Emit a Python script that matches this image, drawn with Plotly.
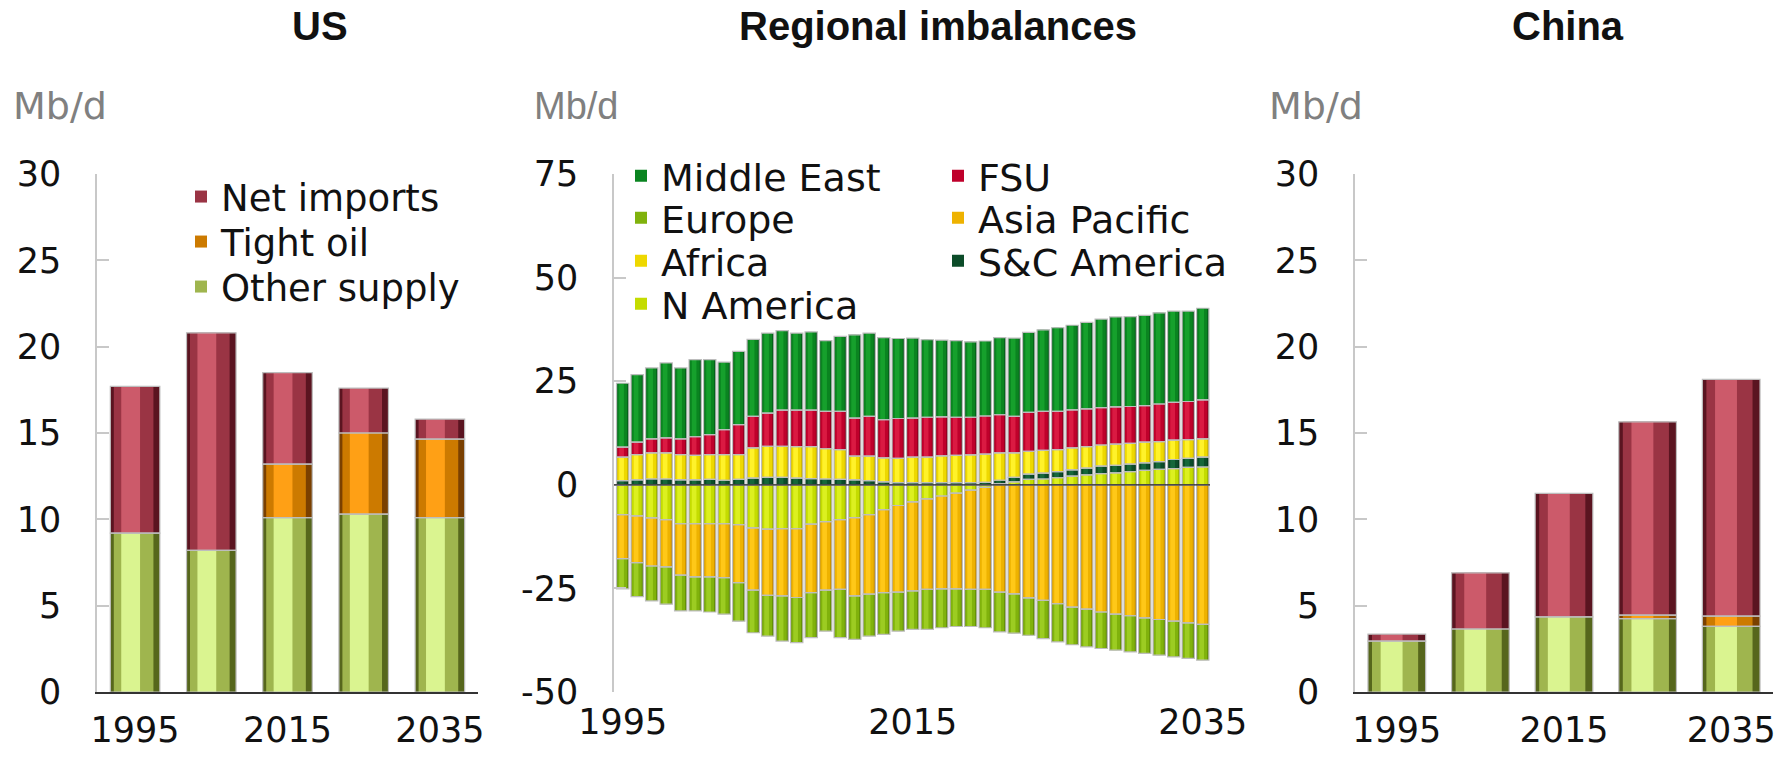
import plotly.graph_objects as go

# ---------------- data ----------------
bar_years = [1995, 2005, 2015, 2025, 2035]
tick_years = [1995, 2015, 2035]

us_other = [9.2, 8.2, 10.1, 10.3, 10.1]
us_tight = [None, None, 3.1, 4.7, 4.55]
us_net = [8.5, 12.6, 5.3, 2.6, 1.15]

cn_other = [2.95, 3.65, 4.35, 4.25, 3.8]
cn_tight = [None, None, None, 0.2, 0.6]
cn_net = [0.4, 3.25, 7.15, 11.2, 13.7]

years = list(range(1995, 2036))
middle_east = [15.4, 16.3, 17.1, 18.1, 17.1, 18.6, 18.1, 16.3, 17.7, 18.6, 19.3, 19.2, 18.6, 18.9,
               17.1, 18.1, 20.1, 20.1, 19.8, 19.3, 19.3, 18.7, 18.5, 18.5, 18.2, 18.1, 18.6, 18.9,
               19.3, 19.7, 20.2, 20.4, 20.9, 21.4, 21.7, 21.7, 21.8, 22.0, 22.0, 21.8, 22.1]
fsu = [2.4, 3.0, 3.4, 3.6, 3.8, 4.5, 4.8, 6.0, 7.2, 7.6, 8.0, 8.7, 8.8, 8.8,
       9.0, 9.2, 9.2, 9.6, 9.2, 9.6, 9.4, 9.6, 9.4, 9.2, 9.1, 9.2, 9.2, 8.8,
       9.4, 9.4, 9.2, 9.2, 9.1, 9.0, 9.0, 8.9, 8.8, 9.1, 9.1, 9.2, 9.4]
africa = [5.7, 6.1, 6.3, 6.3, 6.1, 5.9, 6.0, 6.2, 6.0, 7.3, 7.5, 7.5, 7.6, 7.7,
          7.3, 7.2, 5.7, 5.9, 5.8, 5.9, 6.2, 6.2, 6.5, 6.6, 6.7, 6.8, 6.6, 5.9,
          5.5, 5.5, 5.3, 5.3, 5.2, 5.1, 5.1, 5.0, 5.0, 4.8, 4.7, 4.5, 4.4]
sc_america = [1.0, 1.2, 1.4, 1.4, 1.2, 1.2, 1.3, 1.1, 1.3, 1.6, 1.8, 1.8, 1.6, 1.5,
              1.4, 1.3, 1.2, 1.0, 0.7, 0.5, 0.5, 0.5, 0.5, 0.5, 0.5, 0.6, 0.8, 1.1,
              1.3, 1.4, 1.5, 1.5, 1.6, 1.8, 1.8, 1.8, 1.8, 1.9, 2.2, 2.2, 2.4]
n_america = [-7.2, -7.5, -8.0, -8.4, -9.4, -9.4, -9.4, -9.4, -9.6, -10.4, -10.7, -10.6, -10.6, -9.5,
             -8.9, -8.4, -7.9, -7.2, -6.0, -5.0, -4.1, -3.4, -2.7, -2.0, -1.3, -0.6, 0.3, 0.7,
             1.3, 1.4, 1.7, 2.1, 2.4, 2.7, 2.9, 3.2, 3.5, 3.7, 3.9, 4.2, 4.3]
asia_pacific = [-10.6, -11.3, -11.6, -11.4, -12.4, -12.8, -12.8, -13.0, -14.0, -15.0, -16.0, -16.2, -16.6, -16.5,
                -16.5, -16.8, -18.9, -19.2, -20.0, -20.9, -21.5, -21.8, -22.4, -23.1, -23.9, -24.6, -25.9, -26.3,
                -27.3, -27.9, -28.7, -29.5, -30.0, -30.7, -31.2, -31.6, -32.1, -32.5, -32.9, -33.3, -33.7]
europe = [-7.3, -8.2, -8.4, -9.0, -8.6, -8.2, -8.5, -8.8, -9.3, -10.3, -9.8, -10.9, -10.9, -10.9,
          -9.9, -11.7, -10.5, -10.1, -10.1, -9.4, -9.3, -9.7, -9.4, -9.1, -9.0, -9.3, -9.6, -9.5,
          -9.0, -9.2, -9.2, -9.1, -9.1, -8.8, -8.7, -8.7, -8.6, -8.6, -8.6, -8.6, -8.6]

y_ticks_side = [0, 5, 10, 15, 20, 25, 30]
y_ticks_mid = [-50, -25, 0, 25, 50, 75]

# ---------------- style ----------------
W, H = 1787, 762
FONT = "DejaVu Sans, Verdana, sans-serif"
TFONT = "Liberation Sans, Arial, sans-serif"
OUTLINE = dict(color="#bdbdbd", width=1.2)
# (edge, mid, centre) shades imitating the cylinder shading
SH_NET = ("#5a1420", "#9a3444", "#cc5a6a")
SH_TIGHT = ("#7a4000", "#cc7a00", "#ffa015")
SH_OTHER = ("#56661c", "#9fb54e", "#daf490")
SH_ME = ("#04581a", "#0a8420", "#16a02c")
SH_FSU = ("#86001e", "#bf002b", "#da1a42")
SH_EU = ("#5a8506", "#80b20c", "#9ccc22")
SH_AP = ("#c08800", "#eeb200", "#ffc818")
SH_AF = ("#c4ae00", "#eed800", "#fff22a")
SH_SC = ("#04351a", "#0c4c29", "#16673a")
SH_NA = ("#95ab00", "#c4dc00", "#dcf020")

# name, values, shades, legend id (one legend per row)
us_series = [("Other supply", us_other, SH_OTHER, "legend3"),
             ("Tight oil", us_tight, SH_TIGHT, "legend2"),
             ("Net imports", us_net, SH_NET, "legend")]
cn_series = [("Other supply", cn_other, SH_OTHER, None),
             ("Tight oil", cn_tight, SH_TIGHT, None),
             ("Net imports", cn_net, SH_NET, None)]
mid_series = [("N America", n_america, SH_NA, "legend7"),
              ("S&C America", sc_america, SH_SC, "legend10"),
              ("Africa", africa, SH_AF, "legend6"),
              ("FSU", fsu, SH_FSU, "legend8"),
              ("Middle East", middle_east, SH_ME, "legend4"),
              ("Asia Pacific", asia_pacific, SH_AP, "legend9"),
              ("Europe", europe, SH_EU, "legend5")]
# legend id -> (left x px, row centre y px, font size)
legend_pos = {"legend": (181, 197, 37), "legend2": (181, 242, 37), "legend3": (181, 287, 37),
              "legend4": (621, 176, 38), "legend5": (621, 218, 38), "legend6": (621, 261, 38),
              "legend7": (621, 304, 38),
              "legend8": (938, 176, 38), "legend9": (938, 218, 38), "legend10": (938, 261, 38)}

panels = [(1, bar_years, 6.5, us_series), (2, years, 0.85, mid_series), (3, bar_years, 6.9, cn_series)]


def ax_names(idx):
    return ("x" if idx == 1 else f"x{idx}", "y" if idx == 1 else f"y{idx}")


fig = go.Figure()
for p, (base_idx, xs, w, series) in enumerate(panels):
    # level 0: edge shade, 1: mid shade (carries legend), 2: centre highlight, 3: outline only
    for level in range(4):
        idx = base_idx if level == 0 else 4 + (level - 1) * 3 + p
        xa, ya = ax_names(idx)
        for name, vals, shades, lg in series:
            if level == 0:
                kw = dict(width=w, marker=dict(color=shades[0], line=dict(width=0)))
            elif level == 1:
                kw = dict(width=w * 0.80, offset=-w * 0.43, marker=dict(color=shades[1], line=dict(width=0)))
            elif level == 2:
                kw = dict(width=w * 0.38, offset=-w * 0.28, marker=dict(color=shades[2], line=dict(width=0)))
            else:
                kw = dict(width=w, marker=dict(color="rgba(0,0,0,0)", line=OUTLINE))
            if level == 1 and lg is not None:
                extra = dict(legend=lg, showlegend=True)
            else:
                extra = dict(showlegend=False)
            fig.add_trace(go.Bar(x=xs, y=vals, name=name, xaxis=xa, yaxis=ya, hoverinfo="skip", **kw, **extra))

YDOM = [1 - 692 / H, 1 - 174 / H]
tickfont = dict(family=FONT, size=35, color="#111")
axis_common = dict(showgrid=False, zeroline=False, automargin=False, tickfont=tickfont)
yax = dict(axis_common, showline=True, linecolor="#c8c8c8", linewidth=1.5, ticks="inside", ticklen=12,
           tickcolor="#c8c8c8", tickwidth=1.5, ticklabelstandoff=27, domain=YDOM)

XDOMS = {1: [97 / W, 478 / W], 2: [614 / W, 1210 / W], 3: [1355 / W, 1773 / W]}
XRANGES = {1: [1990, 2040], 2: [1994.4, 2035.5], 3: [1990, 2040]}
YRANGES = {1: [0, 30], 2: [-50, 75], 3: [0, 30]}

layout = dict(
    width=W, height=H, margin=dict(l=0, r=0, t=0, b=0),
    paper_bgcolor="white", plot_bgcolor="rgba(0,0,0,0)", barmode="relative",
    font=dict(family=FONT, size=35, color="#111"),
    xaxis=dict(axis_common, domain=XDOMS[1], range=XRANGES[1], tickvals=tick_years,
               showline=True, linecolor="#333", linewidth=1.5, ticks="", ticklabelstandoff=6, anchor="y"),
    yaxis=dict(yax, range=YRANGES[1], tickvals=y_ticks_side, anchor="x"),
    xaxis2=dict(axis_common, domain=XDOMS[2], range=XRANGES[2], tickvals=tick_years,
                showline=False, ticks="", ticklabelstandoff=6, anchor="y2"),
    yaxis2=dict(yax, range=YRANGES[2], tickvals=y_ticks_mid, ticktext=[str(v) for v in y_ticks_mid],
                anchor="x2"),
    xaxis3=dict(axis_common, domain=XDOMS[3], range=XRANGES[3], tickvals=tick_years,
                showline=True, linecolor="#333", linewidth=1.5, ticks="", ticklabelstandoff=6, anchor="y3"),
    yaxis3=dict(yax, range=YRANGES[3], tickvals=y_ticks_side, anchor="x3"),
    shapes=[dict(type="line", xref="x2 domain", x0=0, x1=1, yref="y2", y0=0, y1=0,
                 line=dict(color="#222", width=1.2), layer="above")],
)
for lg, (lx, ly, fs) in legend_pos.items():
    layout[lg] = dict(x=lx / W, y=1 - ly / H, xanchor="left", yanchor="middle",
                      bgcolor="rgba(0,0,0,0)", font=dict(family=FONT, size=fs, color="#111"))
for p in range(3):
    base_idx = p + 1
    bx, by = ax_names(base_idx)
    for level in range(1, 4):
        idx = 4 + (level - 1) * 3 + p
        layout[f"xaxis{idx}"] = dict(overlaying=bx, range=XRANGES[base_idx], visible=False,
                                     automargin=False, anchor=f"y{idx}")
        layout[f"yaxis{idx}"] = dict(overlaying=by, range=YRANGES[base_idx], visible=False,
                                     automargin=False, anchor=f"x{idx}")
fig.update_layout(**layout)

titles = [("US", 320), ("Regional imbalances", 938), ("China", 1568)]
for txt, xc in titles:
    fig.add_annotation(text=txt, x=xc / W, y=1 - 26 / H, xref="paper", yref="paper",
                       showarrow=False, xanchor="center", yanchor="middle",
                       font=dict(family=TFONT, size=40, color="#111", weight="bold"))
for xl, fam in [(11, FONT), (532, TFONT), (1267, FONT)]:
    fig.add_annotation(text="Mb/d", x=xl / W, y=1 - 106 / H, xref="paper", yref="paper",
                       showarrow=False, xanchor="left", yanchor="middle",
                       font=dict(family=fam, size=38, color="#808080"))

fig.write_html("out.html", config={"displayModeBar": False},
               post_script="document.body.style.margin='0px';document.body.style.overflow='hidden';")
